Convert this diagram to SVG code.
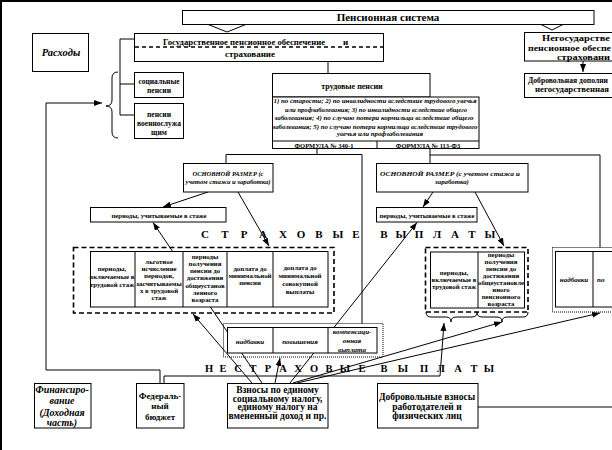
<svg xmlns="http://www.w3.org/2000/svg" width="612" height="450" viewBox="0 0 612 450">
<defs>
<style>
.bx{fill:#fff;stroke:#000;stroke-width:1}
.ln{fill:none;stroke:#000;stroke-width:1}
.ar{fill:none;stroke:#000;stroke-width:1;marker-end:url(#ah)}
.dsh{fill:none;stroke:#000;stroke-width:1.6;stroke-dasharray:5,3}
.dot{fill:none;stroke:#000;stroke-width:1;stroke-dasharray:1,1}
text{font-family:"Liberation Serif","Times New Roman",serif;font-weight:bold;fill:#000}
.c{text-anchor:middle}
.i{font-style:italic}
</style>
<marker id="ah" markerWidth="8" markerHeight="6" refX="8" refY="3" orient="auto" markerUnits="userSpaceOnUse"><path d="M0,0 L8,3 L0,6 z" fill="#000"/></marker>
</defs>
<rect width="612" height="450" fill="#fff"/>
<path d="M1,450 V1 H612" style="fill:none;stroke:#000;stroke-width:2"/>

<g id="connectors">
<path class="ln" d="M207,24 L227,32 L247,24"/>
<path class="ln" d="M540,24 L552,30 L564,24"/>
<path class="ar" d="M583,61 V72"/>
<path class="ln" d="M328,61.5 V73.5"/>
<path class="ln" d="M134.5,39 H120 V115 H134.5 M120,84 H134.5"/>
<path class="ln" d="M118,72 Q112,72 112,78 V100 Q112,106 106,106 Q112,106 112,112 V132 Q112,138 118,138"/>
<path class="ar" d="M160,383 V370 H46 V103 H102"/>
<path class="ln" d="M317,148.5 V154.5 M226,163.5 V154.5 H362 V323.5"/>
<path class="ln" d="M430,148.5 V163.5 M430,155 H600 V247.5"/>
<path class="ar" d="M208,192 L163,207"/>
<path class="ar" d="M238,192 L269,246"/>
<path class="ar" d="M433,192 L423,207"/>
<path class="ar" d="M475,192 L504,246"/>
<path class="ar" d="M252,383 L193,314"/>
<path class="ar" d="M262,383 L153,222.5"/>
<path class="ar" d="M275,383 L280,358"/>
<path class="ar" d="M290,383 L417,222.5"/>
<path class="ar" d="M293,383 L502,322"/>
<path class="ar" d="M297,383 L600,313"/>
<path class="ar" d="M164,383 V376 H440 L444,323"/>
<path class="ln" d="M478,407 H612"/>
<path class="ln" d="M426,312 Q426,317 431,317 H446 Q451,317 451,322 Q451,317 456,317 H472 Q477,317 477,312"/>
<path class="ln" d="M477,312 Q477,317 482,317 H497 Q502,317 502,322 Q502,317 507,317 H523 Q528,317 528,312"/>
</g>

<g id="pension-system">
<rect class="bx" x="182.5" y="10.5" width="411.5" height="14"/>
<text class="c" x="388" y="21" font-size="11">Пенсионная система</text>
</g>

<g id="state-pension">
<rect class="bx" x="134.5" y="33.5" width="249" height="28"/>
<line class="ln" x1="135" y1="47" x2="383" y2="47" style="stroke-dasharray:4,3;stroke-width:1.3"/>
<text x="163" y="45" font-size="9" textLength="162" lengthAdjust="spacingAndGlyphs">Государственное пенсионное обеспечение</text>
<text x="343" y="45" font-size="9">и</text>
<text x="225" y="57" font-size="9" textLength="50" lengthAdjust="spacingAndGlyphs">страхование</text>
</g>

<g id="non-state-pension">
<rect class="bx" x="524.5" y="32.5" width="100" height="28.5"/>
<text x="542" y="41" font-size="8.5" textLength="68" lengthAdjust="spacingAndGlyphs">Негосударстве</text>
<text x="528" y="50.5" font-size="8.5" textLength="83" lengthAdjust="spacingAndGlyphs">пенсионное обеспе</text>
<text x="557" y="60" font-size="8.5" textLength="53" lengthAdjust="spacingAndGlyphs">страховани</text>
</g>

<g id="voluntary-extra">
<rect class="bx" x="524.5" y="73.5" width="100" height="24"/>
<text x="528" y="83" font-size="7.8" textLength="80" lengthAdjust="spacingAndGlyphs">Добровольная дополни</text>
<text x="535" y="92" font-size="8.2" textLength="74" lengthAdjust="spacingAndGlyphs">негосударственная</text>
</g>

<g id="expenses">
<rect class="bx" x="32.5" y="33.5" width="56" height="38"/>
<text class="c i" x="61" y="56" font-size="10.5">Расходы</text>
</g>

<g id="social-pensions">
<rect class="bx" x="134.5" y="72.5" width="49" height="25"/>
<text class="c" x="159" y="83.5" font-size="7.5">социальные</text>
<text class="c" x="159" y="92.5" font-size="7.5">пенсии</text>
</g>

<g id="military-pensions">
<rect class="bx" x="134.5" y="103.5" width="49" height="35"/>
<text class="c" x="159" y="117" font-size="7.5">пенсии</text>
<text class="c" x="159" y="126" font-size="7.5">военнослужа</text>
<text class="c" x="159" y="134.5" font-size="7.5">щим</text>
</g>

<g id="labour-pensions">
<rect class="bx" x="272.5" y="73.5" width="157.5" height="23.5"/>
<rect class="bx" x="272.5" y="97" width="206.5" height="51.5"/>
<line class="ln" x1="272.5" y1="141" x2="479" y2="141"/>
<line class="ln" x1="377" y1="141" x2="377" y2="148.5"/>
<text class="c" x="352" y="89" font-size="8">трудовые пенсии</text>
<text class="c i" x="375" y="103" font-size="7" textLength="203" lengthAdjust="spacingAndGlyphs">1) по старости; 2) по инвалидности вследствие трудового увечья</text>
<text class="c i" x="376" y="111.5" font-size="7" textLength="182" lengthAdjust="spacingAndGlyphs">или профзаболевания; 3) по инвалидности вследствие общего</text>
<text class="c i" x="374" y="120" font-size="7" textLength="199" lengthAdjust="spacingAndGlyphs">заболевания; 4) по случаю потери кормильца вследствие общего</text>
<text class="c i" x="375" y="128.5" font-size="7" textLength="205" lengthAdjust="spacingAndGlyphs">заболевания; 5) по случаю потери кормильца вследствие трудового</text>
<text class="c i" x="380" y="136" font-size="7" textLength="86" lengthAdjust="spacingAndGlyphs">увечья или профзаболевания</text>
<text class="c" x="324" y="147.5" font-size="6.5">ФОРМУЛА № 340-1</text>
<text class="c" x="428" y="147.5" font-size="6.5">ФОРМУЛА № 113-ФЗ</text>
</g>

<g id="base-size-left">
<rect class="bx" x="183.5" y="163.5" width="89.5" height="28.5"/>
<text class="c i" x="228" y="176" font-size="6.8" textLength="71" lengthAdjust="spacingAndGlyphs">ОСНОВНОЙ РАЗМЕР (с</text>
<text class="c i" x="228" y="184" font-size="6.8" textLength="85" lengthAdjust="spacingAndGlyphs">учетом стажа и заработка)</text>
</g>

<g id="base-size-right">
<rect class="bx" x="376.5" y="163.5" width="151.5" height="28.5"/>
<text class="c i" x="450" y="176" font-size="6.8" textLength="140" lengthAdjust="spacingAndGlyphs">ОСНОВНОЙ РАЗМЕР (с учетом стажа и</text>
<text class="c i" x="452" y="184" font-size="6.8">заработка)</text>
</g>

<g id="periods-left">
<rect class="bx" x="90.5" y="207.5" width="135.5" height="14.5"/>
<text class="c" x="159" y="217.5" font-size="7" textLength="95" lengthAdjust="spacingAndGlyphs">периоды, учитываемые в стаже</text>
</g>

<g id="periods-right">
<rect class="bx" x="376.5" y="207.5" width="100.5" height="14.5"/>
<text class="c" x="427" y="217.5" font-size="7" textLength="95" lengthAdjust="spacingAndGlyphs">периоды, учитываемые в стаже</text>
</g>

<g id="insurance-title">
<text class="c" y="237.5" font-size="11" x="205 215 225 234 244 253 263 273 283 292 301 310 319 328 338 347 356 370 384 392 401 410 419 428 437 446 455 463 472 481 490">С Т Р А Х О В Ы Е В Ы П Л А Т Ы</text>
</g>

<g id="insurance-left">
<rect class="dsh" x="73.5" y="247.5" width="260.5" height="65.5"/>
<rect class="bx" x="90.5" y="251.5" width="237.5" height="55.5"/>
<path class="ln" d="M135,251.5 V307 M183,251.5 V307 M227,251.5 V307 M273,251.5 V307"/>
<text class="c" font-size="6.8" x="112" y="271">периоды,</text>
<text class="c" font-size="6.8" x="112" y="279">включаемые в</text>
<text class="c" font-size="6.8" x="112" y="287">трудовой стаж</text>
<text class="c" font-size="6.8" x="159" y="264">льготное</text>
<text class="c" font-size="6.8" x="159" y="271">исчисление</text>
<text class="c" font-size="6.8" x="159" y="278">периодов,</text>
<text class="c" font-size="6.8" x="159" y="286">засчитываемы</text>
<text class="c" font-size="6.8" x="159" y="293">х в трудовой</text>
<text class="c" font-size="6.8" x="159" y="300">стаж</text>
<text class="c" font-size="6.8" x="205" y="259">периоды</text>
<text class="c" font-size="6.8" x="205" y="266">получения</text>
<text class="c" font-size="6.8" x="205" y="273">пенсии до</text>
<text class="c" font-size="6.8" x="205" y="280">достижения</text>
<text class="c" font-size="6.8" x="205" y="288">общеустанов</text>
<text class="c" font-size="6.8" x="205" y="295">ленного</text>
<text class="c" font-size="6.8" x="205" y="302">возраста</text>
<text class="c" font-size="6.8" x="250" y="271">доплата до</text>
<text class="c" font-size="6.8" x="250" y="278">минимальной</text>
<text class="c" font-size="6.8" x="250" y="285">пенсии</text>
<text class="c" font-size="6.8" x="300" y="270">доплата до</text>
<text class="c" font-size="6.8" x="300" y="278">минимальной</text>
<text class="c" font-size="6.8" x="300" y="286">совокупной</text>
<text class="c" font-size="6.8" x="300" y="294">выплаты</text>
</g>

<g id="insurance-right">
<rect class="dsh" x="425.5" y="247.5" width="102.5" height="64.5"/>
<rect class="bx" x="430.5" y="252" width="94" height="56"/>
<path class="ln" d="M478,252 V308"/>
<text class="c" font-size="6.8" x="454" y="275">периоды,</text>
<text class="c" font-size="6.8" x="454" y="282">включаемые в</text>
<text class="c" font-size="6.8" x="454" y="289">трудовой стаж</text>
<text class="c" font-size="6.8" x="501" y="256.5">периоды</text>
<text class="c" font-size="6.8" x="501" y="263.5">получения</text>
<text class="c" font-size="6.8" x="501" y="270.5">пенсии до</text>
<text class="c" font-size="6.8" x="501" y="277.5">достижения</text>
<text class="c" font-size="6.8" x="501" y="284.5">общеустановле</text>
<text class="c" font-size="6.8" x="501" y="291.5">нного</text>
<text class="c" font-size="6.8" x="501" y="298.5">пенсионного</text>
<text class="c" font-size="6.8" x="501" y="305.5">возраста</text>
</g>

<g id="supplements-right">
<rect class="dot" x="552.5" y="247.5" width="70" height="64.5"/>
<rect class="bx" x="555.5" y="251.5" width="70" height="55.5"/>
<path class="ln" d="M593,251.5 V307"/>
<text class="c i" font-size="7" x="574" y="282">надбавки</text>
<text class="i" font-size="7" x="597" y="282">по</text>
</g>

<g id="supplements-middle">
<rect class="dot" x="223.5" y="323.5" width="159.5" height="33.5"/>
<rect class="bx" x="227.5" y="327.5" width="149.5" height="25.5"/>
<path class="ln" d="M273,327.5 V353 M328,327.5 V353"/>
<text class="c i" font-size="7" x="250" y="344">надбавки</text>
<text class="c i" font-size="7" x="300" y="344">повышения</text>
<text class="c i" font-size="7" x="352" y="334">компенсаци-</text>
<text class="c i" font-size="7" x="352" y="343">онная</text>
<text class="c i" font-size="7" x="352" y="352">выплата</text>
</g>

<g id="non-insurance-title">
<text class="c" y="372" font-size="10.5" x="209 216 223 230 238 245 253 260 268 275 283 290 298 306 314 321 329 337 345 353 362 373 384 393 403 413 424 432 441 449 458 466 474 481 489">Н Е С Т Р А Х О В Ы Е В Ы П Л А Т Ы</text>
</g>

<g id="financing">
<rect class="bx" x="34.5" y="383.5" width="56.5" height="44.5"/>
<text class="c i" font-size="10" x="62" y="393">Финансиро-</text>
<text class="c i" font-size="10" x="62" y="404">вание</text>
<text class="c i" font-size="10" x="62" y="416">(Доходная</text>
<text class="c i" font-size="10" x="62" y="426">часть)</text>
</g>

<g id="federal-budget">
<rect class="bx" x="136.5" y="383.5" width="47.5" height="44.5"/>
<text class="c" font-size="9" x="160" y="398.5">Федераль-</text>
<text class="c" font-size="9" x="160" y="409">ный</text>
<text class="c" font-size="9" x="160" y="419.5">бюджет</text>
</g>

<g id="contributions">
<rect class="bx" x="227.5" y="383.5" width="100.5" height="44.5"/>
<text class="c" font-size="9.5" x="277.5" y="393">Взносы по единому</text>
<text class="c" font-size="9.5" x="277.5" y="401.5">социальному налогу,</text>
<text class="c" font-size="9.5" x="277.5" y="410">единому налогу на</text>
<text class="c" font-size="9.5" x="277.5" y="419">вмененный доход и пр.</text>
</g>

<g id="voluntary-contributions">
<rect class="bx" x="377.5" y="383.5" width="100.5" height="44.5"/>
<text class="c" font-size="9.5" x="427" y="400">Добровольные взносы</text>
<text class="c" font-size="9.5" x="427" y="410">работодателей и</text>
<text class="c" font-size="9.5" x="427" y="419">физических лиц</text>
</g>
</svg>
